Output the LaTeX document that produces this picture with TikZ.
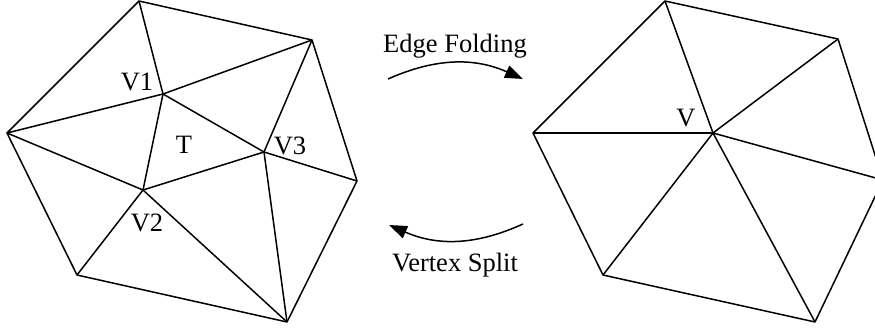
\documentclass[tikz,border=0pt]{standalone}
\usepackage{fontspec}
\setmainfont{Liberation Serif}
\usetikzlibrary{arrows.meta}

\begin{document}
\begin{tikzpicture}[x=1pt, y=-1pt, line width=1.5pt, line join=round,
    lbl/.style={font=\fontsize{26.5}{30}\selectfont, inner sep=0pt},
    flip/.style={-{Triangle[length=18pt,width=13pt]}, bend left=24}]

\clip (0,0) rectangle (875,329);

% ======================================================
% MESH 1 (sinistra)
% ======================================================

% vertici
\coordinate (top1) at (139,1);
\coordinate (tr1)  at (312,40);
\coordinate (r1)   at (357,181);
\coordinate (br1)  at (287,322);
\coordinate (bl1)  at (77,275);
\coordinate (l1)   at (7,133);
\coordinate (v1)   at (163,94);
\coordinate (v2)   at (143,190);
\coordinate (v3)   at (264,152);

% bordo
\draw (l1) -- (top1) -- (tr1) -- (r1) -- (br1) -- (bl1) -- cycle;

% lati interni
\foreach \a/\b in {v1/top1, v1/tr1, v1/l1, v1/v2, v1/v3,
                   v2/l1, v2/bl1, v2/br1, v2/v3,
                   v3/tr1, v3/r1, v3/br1} {
    \draw (\a) -- (\b);
}

% etichette
\node[lbl] (lv1) at (137,82)  {V1};
\node[lbl] (lt)  at (184,145) {T};
\node[lbl] (lv3) at (290,146) {V3};
\node[lbl] (lv2) at (147,223) {V2};

% ======================================================
% MESH 2 (destra)
% ======================================================

% vertici
\coordinate (top2) at (665,1);
\coordinate (tr2)  at (838,39);
\coordinate (r2)   at (883,180);
\coordinate (br2)  at (815,322);
\coordinate (bl2)  at (603,275);
\coordinate (l2)   at (533,133);
\coordinate (v)    at (713,133);

% bordo
\draw (l2) -- (top2) -- (tr2) -- (r2) -- (br2) -- (bl2) -- cycle;

% raggi
\foreach \p in {top2, tr2, r2, br2, bl2, l2} {
    \draw (v) -- (\p);
}

\node[lbl] (lv) at (686,118) {V};

% ======================================================
% Frecce
% ======================================================

\coordinate (fold-s)  at (388,79);
\coordinate (fold-e)  at (523,79);
\coordinate (split-s) at (523,224);
\coordinate (split-e) at (389,225);

\draw[flip] (fold-s) to (fold-e);
\draw[flip] (split-s) to (split-e);

\node[lbl] (fold)  at (455,46)  {Edge Folding};
\node[lbl] (split) at (455,265) {Vertex Split};

\end{tikzpicture}
\end{document}
